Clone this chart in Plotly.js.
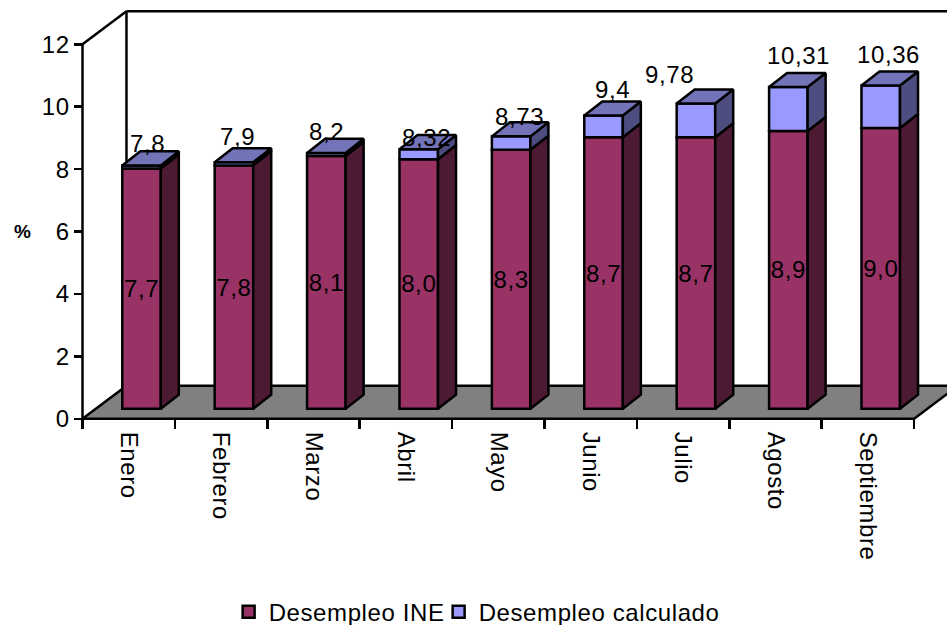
<!DOCTYPE html>
<html>
<head>
<meta charset="utf-8">
<script src="https://cdn.plot.ly/plotly-3.0.1.min.js"></script>
<style>
html, body { margin: 0; padding: 0; background: #fff; }
#chart { width: 947px; height: 625px; }
svg text { letter-spacing: 0.6px; }
</style>
</head>
<body>
<div id="chart"></div>
<script>
// Monthly unemployment, official figure and recalculated figure (%)
const months = ['Enero','Febrero','Marzo','Abril','Mayo','Junio','Julio','Agosto','Septiembre'];
const desempleoINE = [7.7, 7.8, 8.1, 8.0, 8.3, 8.7, 8.7, 8.9, 9.0];
const desempleoCalculado = [7.8, 7.9, 8.2, 8.32, 8.73, 9.4, 9.78, 10.31, 10.36];
const yTicks = [0, 2, 4, 6, 8, 10, 12];

// Pseudo-3D projection, in axis units
const wallDx = 0.476, wallDy = 1.06;     // depth of the chart box
const barDx = 0.195, barDy = 0.45;       // depth of each column
const barShift = 0.139, barLift = 0.32;  // column front sits inside the box
const barWidth = 0.417;

// Hand placement of the upper labels, in pixels from the column's front-top centre
const topLabelDx = [6, 4, 0, 8, 8, 9, -26, 10, 8];
const topLabelDy = [22, 26, 21, 12, 20, 26, 29, 32, 31];

const BLACK = '#000000', STROKE = 2.5;
const RED = '#993366', RED_SIDE = '#4D1A33';
const BLUE = '#9999FF', BLUE_SIDE = '#4D4D80', BLUE_TOP = '#7373B8';
const FONT = {family: 'Liberation Sans, Arial, sans-serif', size: 24, color: BLACK};

const centres = months.map((_, i) => i + 0.5 + barShift);
const comma = (v, digits) => (digits === undefined ? String(v) : v.toFixed(digits)).replace('.', ',');

function face(xs, ys, color) {
  return {x: xs, y: ys, type: 'scatter', mode: 'lines', fill: 'toself', fillcolor: color,
          line: {color: BLACK, width: STROKE}, showlegend: false, hoverinfo: 'skip'};
}

const traces = [
  {name: 'Desempleo INE', type: 'bar', x: centres, y: desempleoINE,
   base: desempleoINE.map(() => barLift), width: barWidth, legendwidth: 165,
   marker: {color: RED, line: {color: BLACK, width: STROKE}},
   text: desempleoINE.map(v => comma(v, 1)), textposition: 'inside',
   insidetextanchor: 'middle', textangle: 0, constraintext: 'none',
   insidetextfont: FONT, hoverinfo: 'skip'},
  {name: 'Desempleo calculado', type: 'bar', x: centres,
   y: desempleoCalculado.map((v, i) => v - desempleoINE[i]),
   base: desempleoINE.map(v => v + barLift), width: barWidth,
   marker: {color: BLUE, line: {color: BLACK, width: STROKE}}, hoverinfo: 'skip'}
];

// Side and top faces of each column
months.forEach((_, i) => {
  const r = centres[i] + barWidth / 2, l = centres[i] - barWidth / 2;
  const low = desempleoINE[i] + barLift, high = desempleoCalculado[i] + barLift;
  traces.push(face([r, r + barDx, r + barDx, r, r], [barLift, barLift + barDy, low + barDy, low, barLift], RED_SIDE));
  traces.push(face([r, r + barDx, r + barDx, r, r], [low, low + barDy, high + barDy, high, low], BLUE_SIDE));
  traces.push(face([l, r, r + barDx, l + barDx, l], [high, high, high + barDy, high + barDy, high], BLUE_TOP));
});

const xEnd = months.length;
const lineOf = (x0, y0, x1, y1) => ({type: 'line', xref: 'x', yref: 'y', layer: 'below',
  x0, y0, x1, y1, line: {color: BLACK, width: STROKE}});

const shapes = [
  // floor
  {type: 'path', xref: 'x', yref: 'y', layer: 'below', fillcolor: '#808080',
   line: {color: BLACK, width: STROKE},
   path: `M0,0 L${wallDx},${wallDy} L${xEnd + wallDx},${wallDy} L${xEnd},0 Z`},
  // value axis and the edges of the back wall
  lineOf(0, 0, 0, 12),
  lineOf(0, 12, wallDx, 12 + wallDy),
  lineOf(wallDx, wallDy, wallDx, 12 + wallDy),
  lineOf(wallDx, 12 + wallDy, xEnd + wallDx, 12 + wallDy)
];

const annotations = desempleoCalculado.map((v, i) => ({
  x: centres[i], y: v + barLift, xref: 'x', yref: 'y', text: comma(v),
  showarrow: false, font: FONT, xanchor: 'center', yanchor: 'middle',
  xshift: topLabelDx[i], yshift: topLabelDy[i]
}));
annotations.push({
  x: 0, y: 6.0, xref: 'paper', yref: 'y', text: '<b>%</b>', showarrow: false, xshift: -60,
  font: {family: FONT.family, size: 19, color: BLACK}
});

const layout = {
  width: 947, height: 625,
  margin: {l: 72, r: 0, t: 5, b: 200, pad: 0, autoexpand: false},
  paper_bgcolor: '#FFFFFF', plot_bgcolor: 'rgba(0,0,0,0)',
  barmode: 'overlay', font: FONT, hovermode: false, bargap: 0,
  xaxis: {
    type: 'linear', range: [-0.1136, 9.356], anchor: 'free', position: 0.015,
    showgrid: false, zeroline: false, showline: false, fixedrange: true,
    tickmode: 'array', tickvals: months.map((_, i) => i + 0.5), ticktext: months,
    tickangle: 90, ticks: '', ticklabelstandoff: 12, tickfont: FONT,
    minor: {tickmode: 'array', tickvals: months.map((_, i) => i).concat([xEnd]),
            ticks: 'outside', ticklen: 9, tickwidth: STROKE, tickcolor: BLACK, showgrid: false}
  },
  yaxis: {
    type: 'linear', range: [-0.2, 13.26], anchor: 'free', position: 0.012,
    showgrid: false, zeroline: false, showline: false, fixedrange: true,
    tickmode: 'array', tickvals: yTicks, ticktext: yTicks.map(String),
    ticks: 'outside', ticklen: 9, tickwidth: STROKE, tickcolor: BLACK, tickfont: FONT,
    ticklabelstandoff: -1
  },
  legend: {
    orientation: 'h', x: 0.179, y: -0.392, xanchor: 'left', yanchor: 'top',
    font: FONT, itemclick: false, itemdoubleclick: false, bgcolor: 'rgba(0,0,0,0)'
  },
  shapes, annotations
};

Plotly.newPlot('chart', traces, layout, {displayModeBar: false, staticPlot: true});
</script>
</body>
</html>
